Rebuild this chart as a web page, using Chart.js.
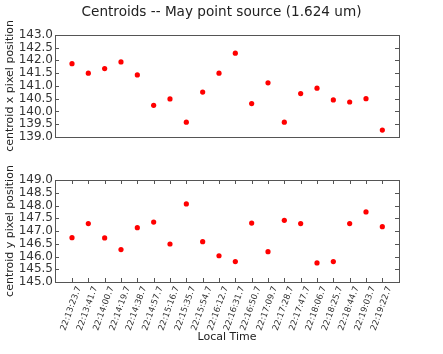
<!DOCTYPE html>
<html>
<head>
<meta charset="utf-8">
<script src="https://cdn.jsdelivr.net/npm/chart.js@4"></script>
<style>
html, body { margin: 0; padding: 0; background: #fff; }
#wrap { position: relative; width: 443px; height: 354px; }
#topChart { position: absolute; left: 0; top: 0; }
#bottomChart { position: absolute; left: 0; top: 160px; }
</style>
</head>
<body>
<div id="wrap">
	<canvas id="topChart" width="443" height="160"></canvas>
	<canvas id="bottomChart" width="443" height="194"></canvas>
</div>
<script>
// local time of each frame
const times = ['22:13:23.7', '22:13:41.7', '22:14:00.7', '22:14:19.7', '22:14:38.7',
	'22:14:57.7', '22:15:16.7', '22:15:35.7', '22:15:54.7', '22:16:12.7',
	'22:16:31.7', '22:16:50.7', '22:17:09.7', '22:17:28.7', '22:17:47.7',
	'22:18:06.7', '22:18:25.7', '22:18:44.7', '22:19:03.7', '22:19:22.7'];

const centroidX = [141.87, 141.50, 141.68, 141.94, 141.43, 140.24, 140.49, 139.58, 140.76, 141.50,
	142.28, 140.31, 141.12, 139.58, 140.70, 140.91, 140.45, 140.37, 140.50, 139.27];

const centroidY = [146.74, 147.29, 146.73, 146.27, 147.13, 147.35, 146.49, 148.06, 146.58, 146.03,
	145.80, 147.31, 146.19, 147.42, 147.29, 145.75, 145.80, 147.29, 147.75, 147.17];

const xTickLabels = ['139.0', '139.5', '140.0', '140.5', '141.0', '141.5', '142.0', '142.5', '143.0'];
const yTickLabels = ['145.0', '145.5', '146.0', '146.5', '147.0', '147.5', '148.0', '148.5', '149.0'];

const font = 'DejaVu Sans';
const textColor = '#333';
const frameColor = '#555';

// border round the axes + ticks pointing inward (matplotlib look)
const framePlugin = {
	id: 'frame',
	beforeDatasetsDraw(chart, args, opts) {
		const ctx = chart.ctx;
		const a = chart.chartArea;
		const line = (x1, y1, x2, y2) => {
			ctx.beginPath();
			ctx.moveTo(x1, y1);
			ctx.lineTo(x2, y2);
			ctx.stroke();
		};
		ctx.save();
		ctx.strokeStyle = frameColor;
		ctx.lineWidth = 1;
		const y = chart.scales.y;
		y.ticks.forEach(t => {
			const p = Math.round(y.getPixelForValue(t.value)) + 0.5;
			line(a.left, p, a.left + 4, p);
			line(a.right - 4, p, a.right, p);
		});
		if (opts.xTicks) {
			const x = chart.scales.x;
			x.ticks.forEach(t => {
				const p = Math.round(x.getPixelForValue(t.value)) + 0.5;
				line(p, a.bottom, p, a.bottom - 4);
				line(p, a.top, p, a.top + 4);
			});
		}
		ctx.strokeRect(Math.round(a.left) + 0.5, Math.round(a.top) + 0.5, Math.round(a.width), Math.round(a.height));
		ctx.restore();
	}
};

function makeChart(id, values, tickLabels, yLabel, isBottom) {
	const ymin = parseFloat(tickLabels[0]);
	const ymax = parseFloat(tickLabels[tickLabels.length - 1]);
	return new Chart(document.getElementById(id), {
		type: 'scatter',
		data: {
			datasets: [{
				data: values.map((v, i) => ({x: i, y: v})),
				backgroundColor: '#ff0000',
				borderWidth: 0,
				pointRadius: 2.6,
			}],
		},
		plugins: [framePlugin],
		options: {
			responsive: false,
			animation: false,
			layout: {
				padding: {top: isBottom ? 20 : 0, right: 0, left: 0, bottom: 0}
			},
			plugins: {
				legend: {display: false},
				tooltip: {enabled: false},
				frame: {xTicks: isBottom},
				title: {
					display: !isBottom,
					text: 'Centroids -- May point source (1.624 um)',
					color: '#222',
					font: {family: font, size: 13.6, weight: 'normal'},
					padding: {top: 4, bottom: 14.5},
				},
			},
			scales: {
				x: {
					type: 'linear',
					min: -1.04,
					max: 20.02,
					grid: {display: false, drawTicks: false},
					border: {display: false},
					afterBuildTicks: (scale) => {
						scale.ticks = times.map((t, i) => ({value: i}));
					},
					afterFit: (scale) => {
						scale.height = isBottom ? 72 : 23;
					},
					ticks: {
						display: isBottom,
						autoSkip: false,
						minRotation: 70,
						maxRotation: 70,
						padding: 3,
						labelOffset: 7,
						color: textColor,
						font: {family: font, size: 8.5},
						callback: (v) => times[v],
					},
					title: {
						display: isBottom,
						text: 'Local Time',
						color: '#222',
						font: {family: font, size: 11},
						padding: {top: 0, bottom: 10},
					},
				},
				y: {
					min: ymin,
					max: ymax,
					grid: {display: false, drawTicks: false},
					border: {display: false},
					afterBuildTicks: (scale) => {
						scale.ticks = tickLabels.map(t => ({value: parseFloat(t)}));
					},
					afterFit: (scale) => {
						scale.width = 55;
					},
					ticks: {
						autoSkip: false,
						padding: 2,
						color: textColor,
						font: {family: font, size: 12},
						callback: (v) => v.toFixed(1),
					},
					title: {
						display: true,
						text: yLabel,
						color: '#222',
						font: {family: font, size: 11},
						padding: {top: 4, bottom: 0},
					},
				},
				y2: {
					display: true,
					position: 'right',
					grid: {display: false, drawTicks: false},
					border: {display: false},
					ticks: {display: false},
					afterFit: (scale) => {
						scale.width = 44;
					},
				},
			},
		},
	});
}

makeChart('topChart', centroidX, xTickLabels, 'centroid x pixel position', false);
makeChart('bottomChart', centroidY, yTickLabels, 'centroid y pixel position', true);
</script>
</body>
</html>
